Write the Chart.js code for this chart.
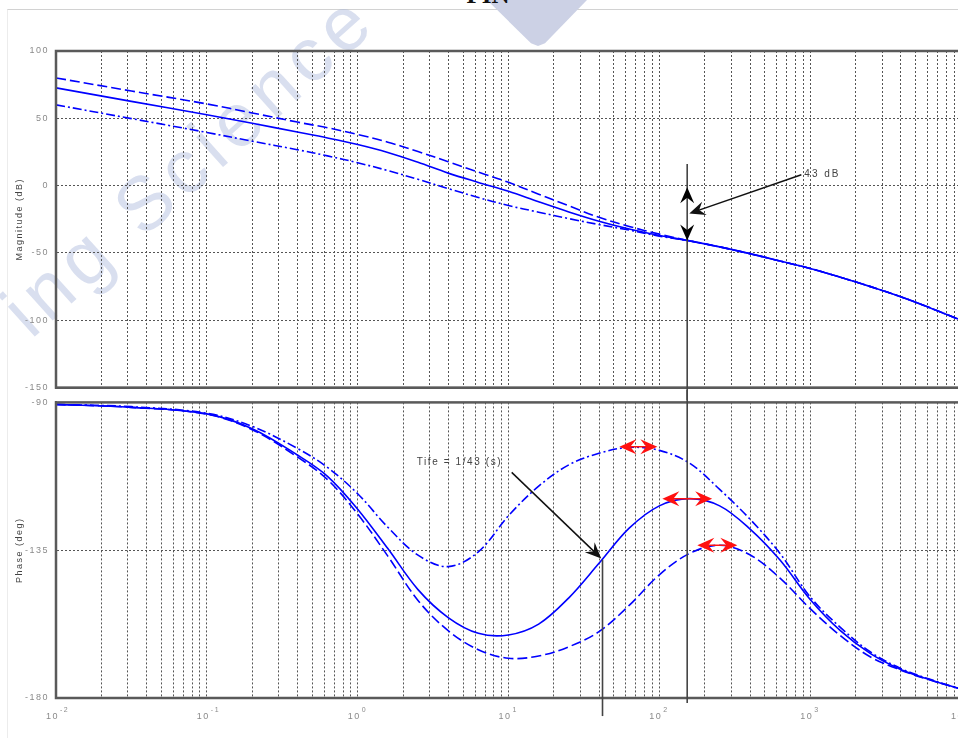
<!DOCTYPE html>
<html>
<head>
<meta charset="utf-8">
<title>PIN</title>
<script src="https://cdn.jsdelivr.net/npm/chart.js@4/dist/chart.umd.min.js"></script>
<style>
  body { margin: 0; width: 958px; height: 738px; overflow: hidden; position: relative; background: #fff; }
  .frame { position: absolute; left: 7px; top: 9px; width: 960px; height: 740px; border-top: 1px solid #d2d2d2; border-left: 1px solid #ececec; }
  .logo { position: absolute; left: 487px; top: 0; width: 100px; height: 46px; background: #ccd1e5; clip-path: polygon(0 0, 100% 0, 58% 94%, 51% 100%, 44% 94%); }
  .heading { position: absolute; top: -19px; left: 9px; width: 958px; text-align: center; font: bold 25px "Liberation Serif", serif; color: #111; }
  .mark { position: absolute; left: 188px; top: 163px; transform: translate(-50%, -50%) rotate(-42deg); font: 76px "Liberation Sans", sans-serif; letter-spacing: 7px; color: rgba(165, 178, 218, 0.42); white-space: nowrap; }
  canvas { position: absolute; left: 0; }
  #mag { top: 0; }
  #phase { top: 390px; }
</style>
</head>
<body>
<div class="frame"></div>
<div class="logo"></div>
<div class="heading">PIN</div>
<div class="mark">ing Science</div>
<canvas id="mag" width="980" height="400"></canvas>
<canvas id="phase" width="980" height="348"></canvas>
<script>
// frequency grid (rad/s)
const freq = [0.01, 0.0316, 0.1, 0.2, 0.398, 0.631, 1, 1.585, 2.512, 3.981, 6.31, 10, 15.85, 25.12, 39.81, 63.1, 100, 158.5, 251.2, 398.1, 631, 1000, 1585, 2512, 3981, 6310, 10000]

// magnitude (dB)
const magSolid = [72.6, 62.6, 52.6, 46.3, 39.8, 35.4, 30.5, 24.6, 17.3, 9.3, 2.4, -4.2, -12, -19.5, -26.4, -32.2, -37, -41, -45.5, -50.5, -56, -61.5, -68, -75, -82.5, -91, -100]
const magDashed = [80, 70.3, 60.7, 54, 47.2, 43, 38, 32.3, 25.3, 17.8, 10, 2.5, -6.4, -15, -23.5, -30.3, -36, -41, -45.5, -50.5, -56, -61.5, -68, -75, -82.5, -91, -100]
const magDashDot = [60, 49.8, 39.5, 33, 26.7, 22.1, 17, 11.2, 4.7, -2.2, -8.8, -14.8, -19.7, -24.5, -28.9, -33, -37.5, -41, -45.5, -50.5, -56, -61.5, -68, -75, -82.5, -91, -100]

// phase (deg)
const phaseSolid = [-90.6, -91.5, -93.5, -98, -106, -112.5, -122.5, -134.5, -147, -155.5, -160.3, -160.8, -157.5, -149.5, -139, -128.3, -121.5, -119.3, -121.5, -128.5, -138, -150, -159.5, -166.5, -171.3, -174.5, -177.3]
const phaseDashed = [-90.6, -91.5, -93.6, -98.3, -106.6, -113.5, -124, -136.8, -150.3, -159.5, -165.3, -167.9, -167.2, -164.4, -159.8, -151.8, -142.5, -136, -133.5, -136.4, -143.5, -152.8, -161, -167.5, -171.5, -174.6, -177.3]
const phaseDashDot = [-90.6, -91.3, -93.3, -97.3, -104, -109.8, -117.8, -128, -136.5, -140, -135.5, -124.5, -115.5, -109, -105.5, -103.7, -104.6, -108.5, -116.5, -125.5, -136, -149.2, -158.5, -166, -171, -174.4, -177.3]

// axis ticks
const decades = [-2, -1, 0, 1, 2, 3, 4]
const magTicks = { min: -150, max: 100, step: 50 }
const phaseTicks = { min: -180, max: -90, step: 45 }

// annotations, in data units
const gapFreq = 153
const gapTop = 16
const gapHigh = -1.2
const gapLow = -40.7
const gapText = "43 dB"
const gapTextAt = [915, 8.1]
const gapPointer = [158, -20.7]
const phaseLineEnd = -181.5

const tifeFreq = 42
const tifeText = "Tife = 1/43 (s)"
const tifeTextAt = [2.46, -108.2]
const tifePointerFrom = [10.5, -111.3]
const tifePointerTo = [41.2, -137.5]
const tifeTop = -137.9
const tifeBottom = -185.5

const peakFrom = [54.3, 104.7, 178.6]
const peakTo = [97, 224, 329]
const peakPhase = [-103.5, -119.3, -133.5]

const gridFreqs = decades.slice(0, -1).flatMap(d => [1, 2, 3, 4, 5, 6, 7, 8, 9].map(m => m * Math.pow(10, d))).concat([Math.pow(10, decades[decades.length - 1])])

Chart.defaults.font.family = "'Liberation Sans', sans-serif"

function head(ctx, x, y, ang, len, half, color) {
	ctx.save()
	ctx.translate(x, y)
	ctx.rotate(ang)
	ctx.beginPath()
	ctx.moveTo(0, 0)
	ctx.lineTo(-len, -half)
	ctx.lineTo(-len * 0.65, 0)
	ctx.lineTo(-len, half)
	ctx.closePath()
	ctx.fillStyle = color
	ctx.fill()
	ctx.restore()
}

function pointer(ctx, x1, y1, x2, y2) {
	const ang = Math.atan2(y2 - y1, x2 - x1)
	ctx.save()
	ctx.strokeStyle = "#111"
	ctx.lineWidth = 1.5
	ctx.beginPath()
	ctx.moveTo(x1, y1)
	ctx.lineTo(x2 - Math.cos(ang) * 8, y2 - Math.sin(ang) * 8)
	ctx.stroke()
	ctx.restore()
	head(ctx, x2, y2, ang, 16, 7, "#111")
}

function vline(ctx, x, y1, y2) {
	ctx.save()
	ctx.strokeStyle = "#444"
	ctx.lineWidth = 1.6
	ctx.beginPath()
	ctx.moveTo(x, y1)
	ctx.lineTo(x, y2)
	ctx.stroke()
	ctx.restore()
}

function label(ctx, text, x, y, size, spacing, color) {
	ctx.save()
	ctx.font = size + "px 'Liberation Sans'"
	ctx.letterSpacing = spacing + "px"
	ctx.fillStyle = color
	ctx.textAlign = "left"
	ctx.textBaseline = "middle"
	ctx.fillText(text, x, y)
	ctx.restore()
}

function box(chart) {
	const a = chart.chartArea
	const ctx = chart.ctx
	ctx.save()
	ctx.strokeStyle = "#5a5a5a"
	ctx.lineWidth = 2.5
	ctx.strokeRect(a.left, a.top, a.right - a.left, a.bottom - a.top)
	ctx.restore()
}

function curve(values, dash) {
	return {
		data: freq.map((f, i) => ({ x: f, y: values[i] })),
		borderColor: "#0000ff",
		borderWidth: 1.6,
		borderDash: dash,
		pointRadius: 0,
		tension: 0.35,
		fill: false
	}
}

function xAxis(height) {
	return {
		type: "logarithmic",
		min: freq[0],
		max: freq[freq.length - 1],
		afterBuildTicks: s => { s.ticks = gridFreqs.map(v => ({ value: v })) },
		afterFit: s => { s.height = height },
		ticks: { display: false },
		grid: { color: "#555", lineWidth: 1, drawTicks: false },
		border: { color: "#5a5a5a", width: 2, dash: [2, 2] }
	}
}

function yAxis(t, title) {
	return {
		min: t.min,
		max: t.max,
		afterFit: s => { s.width = 56 },
		ticks: { stepSize: t.step, color: "#8a8a8a", font: { size: 9 }, padding: 7 },
		grid: { color: "#555", lineWidth: 1, drawTicks: false },
		border: { color: "#5a5a5a", width: 2, dash: [2, 2] },
		title: { display: true, text: title, color: "#444", font: { size: 9 }, padding: { top: 14, bottom: 0 } }
	}
}

const spacing = {
	id: "spacing",
	beforeDraw(chart) { chart.ctx.letterSpacing = "1.5px" }
}

new Chart(document.getElementById("mag").getContext("2d"), {
	type: "line",
	data: {
		datasets: [curve(magDashed, [10, 4]), curve(magDashDot, [9, 3, 2, 3]), curve(magSolid, [])]
	},
	options: {
		responsive: false,
		animation: false,
		events: [],
		layout: { padding: { top: 51, left: 0, right: 19, bottom: 0 } },
		scales: { x: xAxis(4), y: yAxis(magTicks, "Magnitude (dB)") },
		plugins: { legend: { display: false }, tooltip: { enabled: false } }
	},
	plugins: [spacing, {
		id: "magNotes",
		afterDraw(chart) {
			const ctx = chart.ctx
			const x = chart.scales.x
			const y = chart.scales.y
			box(chart)
			const px = x.getPixelForValue(gapFreq)
			vline(ctx, px, y.getPixelForValue(gapTop), chart.height)
			head(ctx, px, y.getPixelForValue(gapHigh), -Math.PI / 2, 16, 7, "#000")
			head(ctx, px, y.getPixelForValue(gapLow), Math.PI / 2, 16, 7, "#000")
			const tx = x.getPixelForValue(gapTextAt[0])
			const ty = y.getPixelForValue(gapTextAt[1])
			pointer(ctx, tx - 3, ty, x.getPixelForValue(gapPointer[0]), y.getPixelForValue(gapPointer[1]))
			label(ctx, gapText, tx, ty, 10, 2, "#444")
		}
	}]
})

new Chart(document.getElementById("phase").getContext("2d"), {
	type: "line",
	data: {
		datasets: [curve(phaseDashed, [10, 4]), curve(phaseDashDot, [9, 3, 2, 3]), curve(phaseSolid, [])]
	},
	options: {
		responsive: false,
		animation: false,
		events: [],
		layout: { padding: { top: 11, left: 0, right: 19, bottom: 0 } },
		scales: { x: xAxis(40), y: yAxis(phaseTicks, "Phase (deg)") },
		plugins: { legend: { display: false }, tooltip: { enabled: false } }
	},
	plugins: [spacing, {
		id: "phaseNotes",
		afterDraw(chart) {
			const ctx = chart.ctx
			const x = chart.scales.x
			const y = chart.scales.y
			const a = chart.chartArea
			box(chart)

			vline(ctx, x.getPixelForValue(gapFreq), 0, y.getPixelForValue(phaseLineEnd))
			vline(ctx, x.getPixelForValue(tifeFreq), y.getPixelForValue(tifeTop), y.getPixelForValue(tifeBottom))

			pointer(ctx, x.getPixelForValue(tifePointerFrom[0]), y.getPixelForValue(tifePointerFrom[1]),
				x.getPixelForValue(tifePointerTo[0]), y.getPixelForValue(tifePointerTo[1]))
			label(ctx, tifeText, x.getPixelForValue(tifeTextAt[0]), y.getPixelForValue(tifeTextAt[1]), 10, 1.6, "#444")

			// red double arrows at the phase peaks
			peakPhase.forEach((p, i) => {
				const x1 = x.getPixelForValue(peakFrom[i])
				const x2 = x.getPixelForValue(peakTo[i])
				const py = y.getPixelForValue(p)
				ctx.save()
				ctx.strokeStyle = "#ff1010"
				ctx.lineWidth = 1.5
				ctx.beginPath()
				ctx.moveTo(x1 + 8, py)
				ctx.lineTo(x2 - 8, py)
				ctx.stroke()
				ctx.restore()
				head(ctx, x2, py, 0, 17, 7.5, "#ff1010")
				head(ctx, x1, py, Math.PI, 17, 7.5, "#ff1010")
			})

			// decade labels 10^n
			decades.forEach(d => {
				const px = x.getPixelForValue(Math.pow(10, d))
				ctx.save()
				ctx.fillStyle = "#8a8a8a"
				ctx.letterSpacing = "1.5px"
				ctx.textBaseline = "middle"
				ctx.textAlign = "right"
				ctx.font = "9px 'Liberation Sans'"
				ctx.fillText("10", px + 3, a.bottom + 19)
				ctx.textAlign = "left"
				ctx.font = "7px 'Liberation Sans'"
				ctx.fillText(String(d), px + 4, a.bottom + 12)
				ctx.restore()
			})
		}
	}]
})
</script>
</body>
</html>
